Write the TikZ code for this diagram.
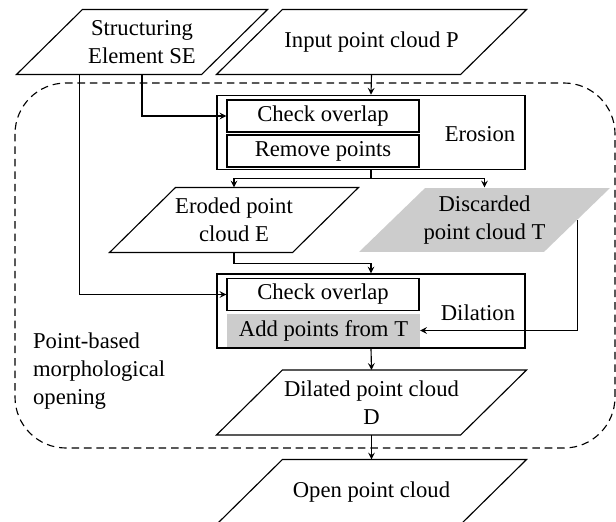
\documentclass[tikz,border=0pt,12pt]{standalone}
\usepackage{fontspec}
\setmainfont{Liberation Serif}
\tikzset{>=stealth}

\begin{document}
\begin{tikzpicture}[x=0.53pt, y=-0.53pt, line width=0.6pt,
    every node/.style={font=\fontsize{12}{14.8}\selectfont},
    cloud/.style={minimum height=33.9pt, inner sep=0pt, align=center,
        append after command={\pgfextra{\draw (\tikzlastnode.south west)
            -- ([xshift=-35pt]\tikzlastnode.south east) -- (\tikzlastnode.north east)
            -- ([xshift=35pt]\tikzlastnode.north west) -- cycle;}}},
    greycloud/.style={minimum height=33.9pt, inner sep=0pt, align=center,
        path picture={\fill[gray!40] (path picture bounding box.south west)
            -- ([xshift=-35pt]path picture bounding box.south east)
            -- (path picture bounding box.north east)
            -- ([xshift=35pt]path picture bounding box.north west) -- cycle;}},
    stage/.style={draw, minimum width=163.2pt, minimum height=39.5pt, inner sep=0pt},
    substep/.style={draw, minimum width=101.8pt, minimum height=17pt, inner sep=0pt},
    shaded/.style={fill=gray!40, draw=none}]
    \clip (0,0) rectangle (616,521);
    % opening region
    \draw[dash pattern=on 4pt off 2.6pt, rounded corners=27pt] (15,83) rectangle (615,448);
    \node[align=left, anchor=west] (lbl) at (25,371) {Point-based\\morphological\\opening};
    % inputs
    \node[cloud, minimum width=132.5pt] (se) at (142,42) {Structuring\\Element SE};
    \node[cloud, minimum width=163.8pt] (inp) at (371.5,42) {Input point cloud P};
    % erosion
    \node[stage] (ero) at (371,132.5) {};
    \node[substep] (chka) at (323,116) {Check overlap};
    \node[substep] (rem) at (323,151) {Remove points};
    \node (erolbl) at (480,134) {Erosion};
    \node[cloud, minimum width=131.4pt] (erod) at (234,220) {Eroded point\\cloud E};
    \node[greycloud, minimum width=133pt] (disc) at (484.5,220) {Discarded\\point cloud T};
    % dilation
    \node[stage, minimum height=39.2pt] (dil) at (371,311) {};
    \node[substep] (chkb) at (323,294.5) {Check overlap};
    \node[substep, shaded] (add) at (323.5,330.5) {Add points from T};
    \node (dillbl) at (478,313) {Dilation};
    \node[cloud, minimum width=163.8pt] (dild) at (371.5,402.5) {Dilated point cloud\\D};
    \node[cloud, minimum width=163.8pt] (open) at (371.5,492) {Open point cloud};
    % connectors
    \draw[->] (inp.south) -- (ero.north);
    \draw[->] (se.south) |- (chka.west);
    \draw[->] ([xshift=-32.9pt]se.south) |- (chkb.west);
    \coordinate (fork) at ([yshift=-4.2pt]ero.south);
    \draw (ero.south) -- (fork);
    \draw[->] (fork) -| (erod.north);
    \draw[->] (fork) -| (disc.north);
    \draw[->] (erod.south) -- ++(0,11) -| (dil.north);
    \draw[->] ([xshift=-17.5pt]disc.east) |- (add.east);
    \draw[->] (dil.south) -- (dild.north);
    \draw[->] (dild.south) -- (open.north);
\end{tikzpicture}
\end{document}
